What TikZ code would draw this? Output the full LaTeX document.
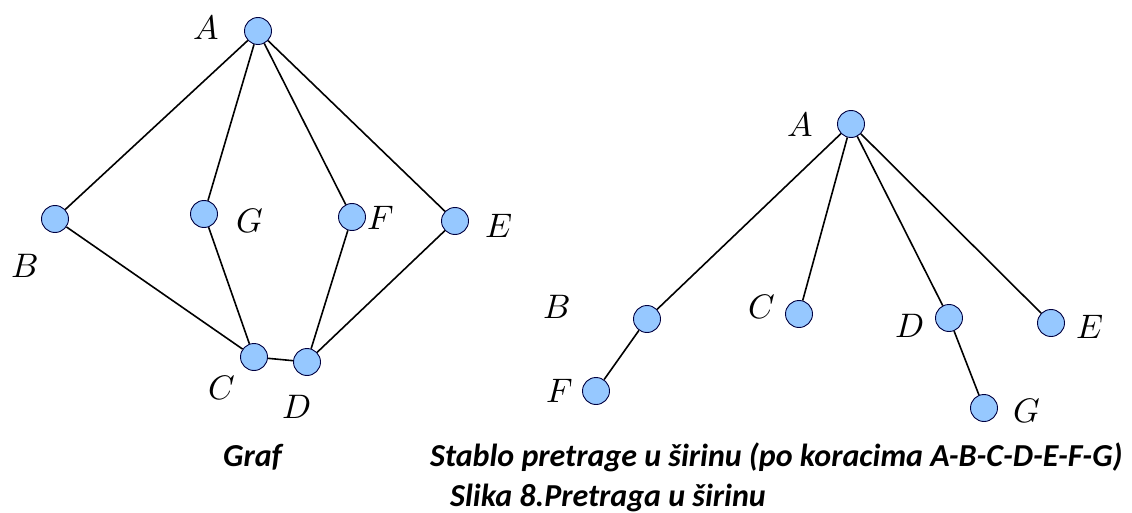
\documentclass[tikz,border=0pt]{standalone}
\usepackage{fontspec}
\usepackage{unicode-math}
\setmathfont{Latin Modern Math}
\newfontfamily\capfont{Carlito}
\begin{document}
\begin{tikzpicture}[x=1pt,y=-1pt,
  vtx/.style={circle,draw=black!75!blue,line width=0.9pt,fill=vblue,minimum size=27pt,inner sep=0pt},
  lbl/.style={font=\fontsize{34}{34}\selectfont,inner sep=0pt},
  edge/.style={line width=1.6pt,black},
  captxt/.style={font=\capfont\bfseries\itshape\fontsize{32}{32}\selectfont,anchor=base west,inner sep=0pt}]
\definecolor{vblue}{RGB}{150,200,255}
\useasboundingbox (0,0) rectangle (1132,513);
% Graph
\node[vtx] (A) at (258,31) {};
\node[vtx] (B) at (55,219) {};
\node[vtx] (G) at (204,214) {};
\node[vtx] (F) at (352,217) {};
\node[vtx] (E) at (455,221) {};
\node[vtx] (C) at (254,357) {};
\node[vtx] (D) at (307,362) {};
\draw[edge] (A) -- (B);
\draw[edge] (A) -- (G);
\draw[edge] (A) -- (F);
\draw[edge] (A) -- (E);
\draw[edge] (B) -- (C);
\draw[edge] (G) -- (C);
\draw[edge] (C) -- (D);
\draw[edge] (F) -- (D);
\draw[edge] (E) -- (D);
\node[lbl] (lA) at (206,27) {$A$};
\node[lbl] (lB) at (25,266) {$B$};
\node[lbl] (lG) at (250,221) {$G$};
\node[lbl] (lF) at (381,218) {$F$};
\node[lbl] (lE) at (499,226) {$E$};
\node[lbl] (lC) at (222,388) {$C$};
\node[lbl] (lD) at (297,407) {$D$};
% Tree
\node[vtx] (tA) at (851,124) {};
\node[vtx] (tB) at (647,319) {};
\node[vtx] (tC) at (799,314) {};
\node[vtx] (tD) at (949,318) {};
\node[vtx] (tE) at (1051,323) {};
\node[vtx] (tF) at (596,391) {};
\node[vtx] (tG) at (984,408) {};
\draw[edge] (tA) -- (tB);
\draw[edge] (tA) -- (tC);
\draw[edge] (tA) -- (tD);
\draw[edge] (tA) -- (tE);
\draw[edge] (tB) -- (tF);
\draw[edge] (tD) -- (tG);
\node[lbl] (ltA) at (800,124) {$A$};
\node[lbl] (ltB) at (557,307) {$B$};
\node[lbl] (ltC) at (762,307) {$C$};
\node[lbl] (ltD) at (910,326) {$D$};
\node[lbl] (ltE) at (1090,327) {$E$};
\node[lbl] (ltF) at (560,391) {$F$};
\node[lbl] (ltG) at (1027,411) {$G$};
% captions
\node[captxt] (c1) at (223,466) {Graf};
\node[captxt] (c2) at (430,466) {Stablo pretrage u širinu (po koracima A-B-C-D-E-F-G)};
\node[captxt] (c3) at (450,506) {Slika 8.Pretraga u širinu};
\end{tikzpicture}
\end{document}
